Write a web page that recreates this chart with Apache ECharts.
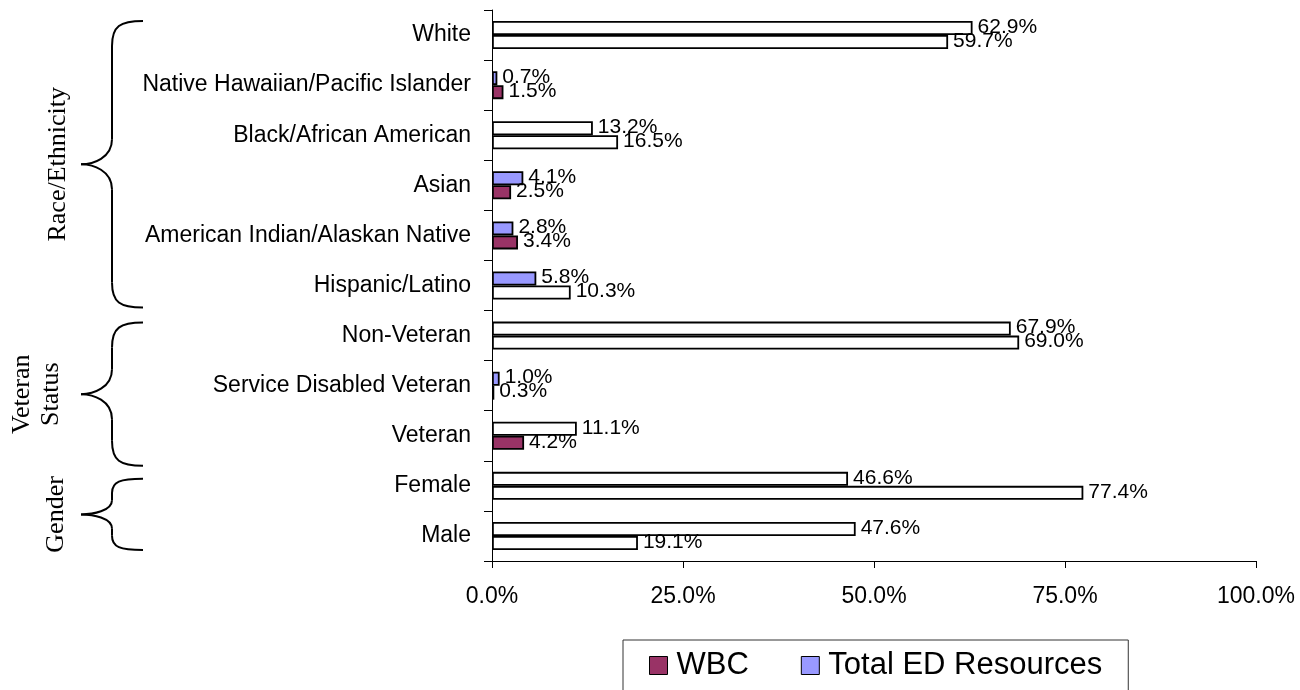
<!DOCTYPE html>
<html>
<head>
<meta charset="utf-8">
<script src="https://cdn.jsdelivr.net/npm/echarts@6/dist/echarts.min.js"></script>
<style>
html,body{margin:0;padding:0;background:#fff;}
#chart{width:1300px;height:690px;}
</style>
</head>
<body>
<div id="chart"></div>
<script>
// Categories, top to bottom
const categories = [
  'White',
  'Native Hawaiian/Pacific Islander',
  'Black/African American',
  'Asian',
  'American Indian/Alaskan Native',
  'Hispanic/Latino',
  'Non-Veteran',
  'Service Disabled Veteran',
  'Veteran',
  'Female',
  'Male'
];
const wbcValues = [59.7, 1.5, 16.5, 2.5, 3.4, 10.3, 69.0, 0.3, 4.2, 77.4, 19.1];
const totalEdValues = [62.9, 0.7, 13.2, 4.1, 2.8, 5.8, 67.9, 1.0, 11.1, 46.6, 47.6];
const seriesNames = ['WBC', 'Total ED Resources'];
const xTicks = [0, 25, 50, 75, 100];
const groupLabels = ['Race/Ethnicity', 'Veteran\nStatus', 'Gender'];

const WBC_COLOR = '#993366';
const ED_COLOR = '#9999FF';
const SANS = 'Liberation Sans, Arial, sans-serif';

const chart = echarts.init(document.getElementById('chart'));

function fillFor(base) {
  return function (p) { return p.value >= 10 ? '#ffffff' : base; };
}
const pct = v => Number(v).toFixed(1) + '%';

const labelCfg = {
  show: true,
  position: 'right',
  distance: 5,
  color: '#000',
  fontFamily: SANS,
  fontSize: 21,
  offset: [0, -1],
  formatter: p => pct(p.value)
};

const option = {
  animation: false,
  backgroundColor: '#fff',
  grid: { left: 492, right: 44, top: 10, bottom: 129, containLabel: false },
  xAxis: {
    type: 'value',
    min: xTicks[0],
    max: xTicks[xTicks.length - 1],
    interval: xTicks[1] - xTicks[0],
    splitLine: { show: false },
    axisLine: { show: true, lineStyle: { color: '#000', width: 1 } },
    axisTick: { show: true, length: 7, lineStyle: { color: '#000' } },
    axisLabel: {
      color: '#000', fontSize: 23, margin: 24,
      fontFamily: SANS,
      formatter: v => pct(v)
    }
  },
  yAxis: {
    type: 'category',
    inverse: true,
    data: categories,
    axisLine: { show: true, lineStyle: { color: '#000', width: 1 } },
    axisTick: { show: true, length: 8, lineStyle: { color: '#000' } },
    axisLabel: {
      color: '#000', fontSize: 23, margin: 21,
      fontFamily: SANS
    }
  },
  legend: {
    left: 623,
    top: 640,
    orient: 'horizontal',
    icon: 'rect',
    itemWidth: 18,
    itemHeight: 18,
    itemGap: 52,
    borderColor: '#333',
    borderWidth: 1,
    padding: [10, 26, 40, 26],
    textStyle: { color: '#000', fontSize: 31, fontFamily: SANS, padding: [0, 0, 0, 4] },
    data: [
      { name: seriesNames[0], itemStyle: { color: WBC_COLOR, borderColor: '#000', borderWidth: 1 } },
      { name: seriesNames[1], itemStyle: { color: ED_COLOR, borderColor: '#000', borderWidth: 1 } }
    ]
  },
  series: [
    {
      name: seriesNames[1],
      type: 'bar',
      data: totalEdValues,
      barWidth: 14,
      barGap: '0%',
      itemStyle: { color: fillFor(ED_COLOR), borderColor: '#000', borderWidth: 1.8 },
      label: labelCfg
    },
    {
      name: seriesNames[0],
      type: 'bar',
      data: wbcValues,
      barWidth: 14,
      barGap: '0%',
      itemStyle: { color: fillFor(WBC_COLOR), borderColor: '#000', borderWidth: 1.8 },
      label: labelCfg
    }
  ]
};
chart.setOption(option);

// Group braces and labels (annotations, positioned from category pixels)
function cy(i) { return chart.convertToPixel({ yAxisIndex: 0 }, categories[i]); }
const lineStyle = { stroke: '#000', lineWidth: 2, fill: null };
function brace(yT, yB) {
  const xe = 143, xl = 112, xt = 81;
  const yM = (yT + yB) / 2;
  const r = Math.min(25, (yB - yT) / 5);
  const els = [];
  const bz = (x1, y1, cx1, cy1, cx2, cy2, x2, y2) => els.push({
    type: 'bezierCurve',
    shape: { x1: x1, y1: y1, cpx1: cx1, cpy1: cy1, cpx2: cx2, cpy2: cy2, x2: x2, y2: y2 },
    style: lineStyle
  });
  const ln = (x1, y1, x2, y2) => els.push({
    type: 'line', shape: { x1: x1, y1: y1, x2: x2, y2: y2 }, style: lineStyle
  });
  bz(xe, yT, xl + 8, yT, xl, yT + r * 0.2, xl, yT + r);
  ln(xl, yT + r, xl, yM - r);
  bz(xl, yM - r, xl, yM - r * 0.25, xt + 12, yM, xt, yM);
  bz(xt, yM, xt + 12, yM, xl, yM + r * 0.25, xl, yM + r);
  ln(xl, yM + r, xl, yB - r);
  bz(xl, yB - r, xl, yB - r * 0.2, xl + 8, yB, xe, yB);
  return els;
}
const groups = [
  { from: 0, to: 5, top: -14, bot: 22, tx: 58 },
  { from: 6, to: 8, top: -13, bot: 30, tx: 37 },
  { from: 9, to: 10, top: -7, bot: 14, tx: 56 }
];
let graphics = [];
groups.forEach((g, k) => {
  const yT = cy(g.from) + g.top;
  const yB = cy(g.to) + g.bot;
  graphics = graphics.concat(brace(yT, yB));
  graphics.push({
    type: 'text',
    x: g.tx,
    y: (yT + yB) / 2,
    rotation: Math.PI / 2,
    style: {
      text: groupLabels[k],
      fill: '#000',
      font: '26px "Liberation Serif", "Times New Roman", serif',
      align: 'center',
      verticalAlign: 'middle',
      lineHeight: 29
    }
  });
});
chart.setOption({ graphic: { elements: graphics } });
</script>
</body>
</html>
